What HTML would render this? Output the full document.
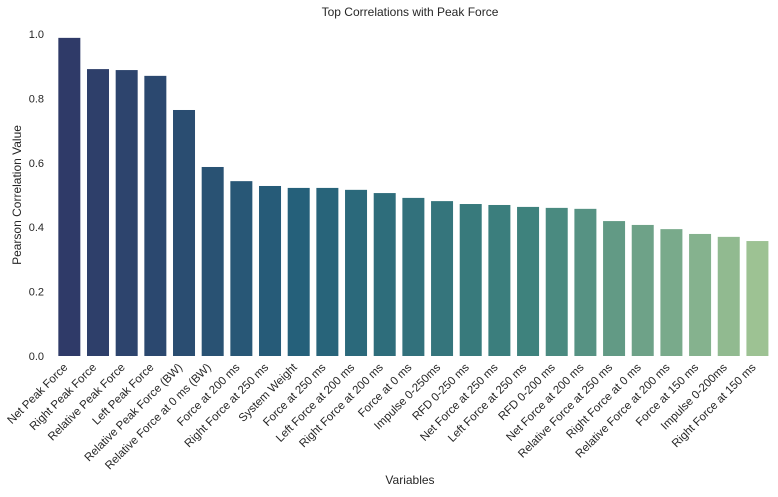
<!DOCTYPE html>
<html><head><meta charset="utf-8"><style>
body{margin:0;background:#fff;font-family:"Liberation Sans",Arial,sans-serif}
svg text{font-family:"Liberation Sans",Arial,sans-serif;fill:#262626}
</style></head><body>
<svg id="chart" width="778" height="492" xmlns="http://www.w3.org/2000/svg">
<text x="410" y="16" font-size="12" text-anchor="middle">Top Correlations with Peak Force</text>
<text x="410" y="484" font-size="12" text-anchor="middle">Variables</text>
<text transform="translate(21,195) rotate(-90)" font-size="12" text-anchor="middle">Pearson Correlation Value</text>
<g id="bars"></g><g id="yticks"></g><g id="xticks"></g>
</svg>
<script>
const categories=["Net Peak Force","Right Peak Force","Relative Peak Force","Left Peak Force","Relative Peak Force (BW)","Relative Force at 0 ms (BW)","Force at 200 ms","Right Force at 250 ms","System Weight","Force at 250 ms","Left Force at 200 ms","Right Force at 200 ms","Force at 0 ms","Impulse 0-250ms","RFD 0-250 ms","Net Force at 250 ms","Left Force at 250 ms","RFD 0-200 ms","Net Force at 200 ms","Relative Force at 250 ms","Right Force at 0 ms","Relative Force at 200 ms","Force at 150 ms","Impulse 0-200ms","Right Force at 150 ms"];
const values=[0.988,0.891,0.888,0.87,0.764,0.587,0.543,0.528,0.522,0.522,0.516,0.506,0.491,0.481,0.472,0.469,0.463,0.46,0.457,0.419,0.407,0.394,0.379,0.37,0.357];
const yTicks=[0,0.2,0.4,0.6,0.8,1.0];
const NS="http://www.w3.org/2000/svg";
const x0=55,step=28.67,bw=22,yBase=356,yScale=322;
const xPos=i=>x0+step*i+step/2;
const yPos=v=>yBase-v*yScale;
const stops=[[47,58,104],[37,96,122],[62,130,125],[157,194,147]];
function col(t){const s=t*(stops.length-1);const k=Math.min(Math.floor(s),stops.length-2);const f=s-k;
return "rgb("+stops[k].map((c,j)=>Math.round(c+(stops[k+1][j]-c)*f)).join(",")+")";}
const gb=document.getElementById('bars'),gy=document.getElementById('yticks'),gx=document.getElementById('xticks');
values.forEach((v,i)=>{
const r=document.createElementNS(NS,'rect');


r.setAttribute('x',xPos(i)-bw/2);r.setAttribute('y',yPos(v));
r.setAttribute('width',bw);r.setAttribute('height',yBase-yPos(v));
r.setAttribute('fill',col(i/(values.length-1)));gb.appendChild(r);
const t=document.createElementNS(NS,'text');


t.setAttribute('font-size','11.5');t.setAttribute('text-anchor','end');
t.setAttribute('transform','translate('+(xPos(i)-1)+','+(yBase+12)+') rotate(-45)');
t.textContent=categories[i];gx.appendChild(t);
});
yTicks.forEach(v=>{
const t=document.createElementNS(NS,'text');


t.setAttribute('font-size','11');t.setAttribute('text-anchor','end');
t.setAttribute('x',44);t.setAttribute('y',yPos(v)+4);
t.textContent=v.toFixed(1);gy.appendChild(t);
});
</script>
</body></html>
